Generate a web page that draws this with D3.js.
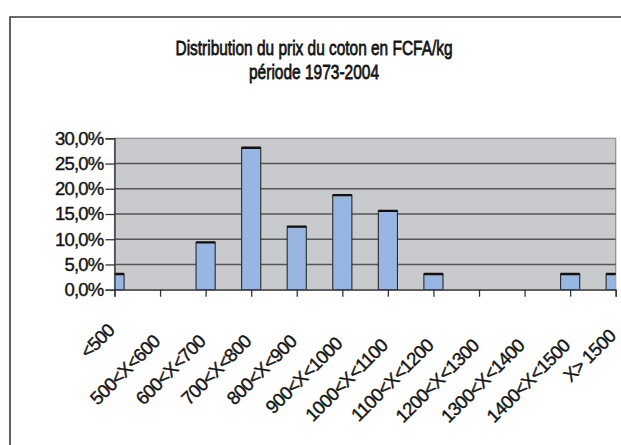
<!DOCTYPE html>
<html>
<head>
<meta charset="utf-8">
<script src="https://cdn.jsdelivr.net/npm/d3@7"></script>
<style>
  html, body { margin: 0; padding: 0; background: #fff; }
  svg { display: block; font-family: "Liberation Sans", Arial, sans-serif; }
</style>
</head>
<body>
<svg id="chart" width="621" height="445"></svg>
<script>
// Price classes (FCFA/kg) and share of years 1973-2004 falling in each class (%)
const categories = ["<500", "500<X<600", "600<X<700", "700<X<800", "800<X<900", "900<X<1000",
                    "1000<X<1100", "1100<X<1200", "1200<X<1300", "1300<X<1400", "1400<X<1500", "X> 1500"];
const shares = [3.125, 0, 9.375, 28.125, 12.5, 18.75, 15.625, 3.125, 0, 0, 3.125, 3.125];
const yTicks = [0, 5, 10, 15, 20, 25, 30];
const titleLines = ["Distribution du prix du coton en FCFA/kg", "période 1973-2004"];

const svg = d3.select("#chart");
const plot = { left: 114.5, right: 615.7, top: 138.3, bottom: 289.7 };
const ink = "#151515";

// Outer chart frame (open on the right and bottom)
svg.append("path")
  .attr("d", `M10,445 L10,17 L625,17`)
  .attr("fill", "none").attr("stroke", "#3a3a3a").attr("stroke-width", 1.6);

// Title, two lines, tightly set
const titleWidths = [277, 130];
const titleBaselines = [54.5, 79];
titleLines.forEach((t, i) => {
  svg.append("text")
    .attr("x", 314).attr("y", titleBaselines[i])
    .attr("text-anchor", "middle")
    .attr("font-size", 21)
    .attr("fill", ink)
    .attr("stroke", ink).attr("stroke-width", 0.8)
    .attr("textLength", titleWidths[i])
    .attr("lengthAdjust", "spacingAndGlyphs")
    .text(t);
});

const x = d3.scalePoint().domain(categories).range([plot.left, plot.right]).padding(0);
const y = d3.scaleLinear().domain([0, 30]).range([plot.bottom, plot.top]);
const step = x.step();
const barW = step * 0.42;

// Plot area
svg.append("rect")
  .attr("x", plot.left).attr("y", plot.top)
  .attr("width", plot.right - plot.left).attr("height", plot.bottom - plot.top)
  .attr("fill", "#c9cacd").attr("stroke", "#8c8c8c").attr("stroke-width", 1.2);

svg.append("defs").append("clipPath").attr("id", "plotClip")
  .append("rect")
  .attr("x", plot.left).attr("y", plot.top - 5)
  .attr("width", plot.right - plot.left).attr("height", plot.bottom - plot.top + 5);

// Horizontal gridlines
svg.append("g").selectAll("line")
  .data(yTicks.filter(v => v > 0 && v < 30))
  .join("line")
  .attr("x1", plot.left).attr("x2", plot.right)
  .attr("y1", d => y(d)).attr("y2", d => y(d))
  .attr("stroke", "#555").attr("stroke-width", 1.4);

// Bars
const bars = svg.append("g").attr("clip-path", "url(#plotClip)");
const data = categories.map((c, i) => ({ c, v: shares[i] })).filter(d => d.v > 0);
bars.selectAll("rect")
  .data(data)
  .join("rect")
  .attr("x", d => x(d.c) - barW / 2)
  .attr("y", d => y(d.v))
  .attr("width", barW)
  .attr("height", d => y(0) - y(d.v))
  .attr("fill", "#97b6e2")
  .attr("stroke", "#2a2a2a").attr("stroke-width", 1.1);
bars.selectAll("line.top")
  .data(data)
  .join("line")
  .attr("class", "top")
  .attr("x1", d => x(d.c) - barW / 2).attr("x2", d => x(d.c) + barW / 2)
  .attr("y1", d => y(d.v)).attr("y2", d => y(d.v))
  .attr("stroke", "#111").attr("stroke-width", 2.4);

// Y axis
const fmt = v => d3.format(".1f")(v).replace(".", ",") + "%";
const yAxis = svg.append("g")
  .attr("transform", `translate(${plot.left},0)`)
  .call(d3.axisLeft(y).tickValues(yTicks).tickSize(9).tickPadding(2).tickFormat(fmt));
yAxis.select(".domain").attr("stroke", "#333").attr("stroke-width", 1.3);
yAxis.selectAll(".tick line").attr("stroke", "#333").attr("stroke-width", 1.3);
yAxis.selectAll(".tick text")
  .attr("font-size", 18.5).attr("fill", ink)
  .attr("stroke", ink).attr("stroke-width", 0.4)
  .attr("font-family", "Liberation Sans, Arial, sans-serif")
  .attr("letter-spacing", -0.8);

// X axis
const xAxis = svg.append("g")
  .attr("transform", `translate(0,${plot.bottom})`)
  .call(d3.axisBottom(x).tickSize(7).tickFormat(""));
xAxis.select(".domain").attr("stroke", "#333").attr("stroke-width", 1.3);
xAxis.selectAll(".tick line").attr("stroke", "#333").attr("stroke-width", 1.3);

// Rotated category labels; shorter labels are lifted a little
const labels = svg.append("g").selectAll("text")
  .data(categories)
  .join("text")
  .attr("font-size", 18.5).attr("fill", ink)
  .attr("stroke", ink).attr("stroke-width", 0.4)
  .attr("letter-spacing", -0.7)
  .attr("text-anchor", "end")
  .text(d => d);
const lens = labels.nodes().map(n => n.getComputedTextLength());
const maxLen = d3.max(lens);
labels.attr("transform", (d, i) => {
  const ex = x(d) + 1;
  const ey = 347 - 0.22 * (maxLen - lens[i]);
  return `translate(${ex},${ey}) rotate(-45)`;
});
</script>
</body>
</html>
